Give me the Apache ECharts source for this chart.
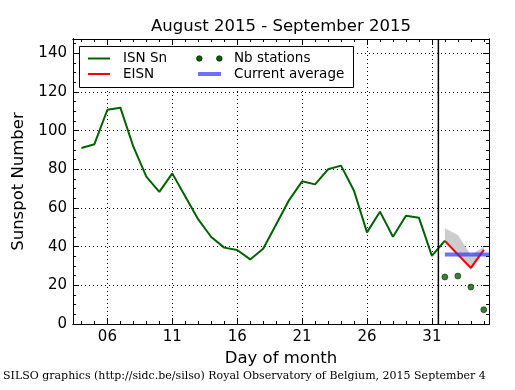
<!DOCTYPE html>
<html><head><meta charset="utf-8">
<script src="https://cdn.jsdelivr.net/npm/echarts@6/dist/echarts.min.js"></script>
<style>html,body{margin:0;padding:0;background:#fff}#c{width:515px;height:390px}</style>
</head><body><div id="c"></div>
<script>
// ---- data ----
const days = [4,5,6,7,8,9,10,11,12,13,14,15,16,17,18,19,20,21,22,23,24,25,26,27,28,29,30,31,32];
const isn  = [91,93,110.8,111.9,91.7,76.2,68.3,77.9,66,54.1,45,39.5,38.3,33.4,38.9,51.5,64.1,73.8,72.2,80,81.9,68.9,47.4,58.1,45.1,56,55,35.2,43.1];
const eisnDays = [32,33,34,35];
const eisn     = [43,36,29,38.3];
const bandUpper = [49.5,46,35.7,40];
const bandLower = [41.7,34.8,27.9,37.4];
const stations  = [24.3,24.8,19.1,7.4];
const avgDays  = [32,35.4];
const avgValue = 36;
const splitDay = 31.5;
const xMajorTicks = [6,11,16,21,26,31];
const xLabels = ['06','11','16','21','26','31'];
const xMinorTicks = [4,5,6,7,8,9,10,11,12,13,14,15,16,17,18,19,20,21,22,23,24,25,26,27,28,29,30,31,32,33,34,35];
const yMajorTicks = [0,20,40,60,80,100,120,140];
const yMinorTicks = [0,5,10,15,20,25,30,35,40,45,50,55,60,65,70,75,80,85,90,95,100,105,110,115,120,125,130,135,140,145];
const xMin = 3.35, xMax = 35.4, yMin = 0, yMax = 147.4;

const F = 'DejaVu Sans';
const green = '#006400', red = '#ff0000', blue = 'rgba(51,51,255,0.7)';

function xAx(pos, ticks, len, labels, split) {
  return {
    type: 'value', min: xMin, max: xMax, position: pos,
    axisLine: {show: true, onZero: false, lineStyle: {color: '#000', width: 1}},
    axisTick: {show: true, inside: true, length: len, customValues: ticks, lineStyle: {color: '#000'}},
    axisLabel: labels ? {show: true, customValues: ticks, margin: 6, color: '#000',
      fontFamily: F, fontSize: 15, formatter: v => xLabels[xMajorTicks.indexOf(Math.round(v))] || ''} : {show: false},
    splitLine: split ? {show: true, lineStyle: {color: '#000', type: [1, 3], width: 1}} : {show: false}
  };
}
function yAx(pos, ticks, len, labels, split) {
  return {
    type: 'value', min: yMin, max: yMax, position: pos,
    axisLine: {show: true, onZero: false, lineStyle: {color: '#000', width: 1}},
    axisTick: {show: true, inside: true, length: len, customValues: ticks, lineStyle: {color: '#000'}},
    axisLabel: labels ? {show: true, customValues: ticks, margin: 6, color: '#000', fontFamily: F, fontSize: 15} : {show: false},
    splitLine: split ? {show: true, lineStyle: {color: '#000', type: [1, 3], width: 1}} : {show: false}
  };
}

const xa0 = xAx('bottom', xMajorTicks, 6, true, true);
xa0.name = 'Day of month'; xa0.nameLocation = 'middle'; xa0.nameGap = 24;
xa0.nameTextStyle = {fontFamily: F, fontSize: 16.5, color: '#000'};
const ya0 = yAx('left', yMajorTicks, 6, true, true);
ya0.name = 'Sunspot Number'; ya0.nameLocation = 'middle'; ya0.nameGap = 39;
ya0.nameTextStyle = {fontFamily: F, fontSize: 16.5, color: '#000'};

const chart = echarts.init(document.getElementById('c'), null, {renderer: 'canvas'});
chart.setOption({
  animation: false,
  backgroundColor: '#fff',
  grid: {left: 73, right: 26, top: 39, bottom: 66, containLabel: false},
  xAxis: [xa0, xAx('bottom', xMinorTicks, 3, false, false), xAx('top', xMajorTicks, 6, false, false), xAx('top', xMinorTicks, 3, false, false)],
  yAxis: [ya0, yAx('left', yMinorTicks, 3, false, false), yAx('right', yMajorTicks, 6, false, false), yAx('right', yMinorTicks, 3, false, false)],
  series: [
    {
      type: 'custom', name: 'band', z: 1,
      data: eisnDays.map((d, i) => [d, bandLower[i], bandUpper[i]]),
      renderItem: function (params, api) {
        if (params.dataIndex !== 0) return null;
        const pts = [];
        for (let j = 0; j < eisnDays.length; j++) pts.push(api.coord([eisnDays[j], bandUpper[j]]));
        for (let j = eisnDays.length - 1; j >= 0; j--) pts.push(api.coord([eisnDays[j], bandLower[j]]));
        return {type: 'polygon', shape: {points: pts}, style: {fill: '#cccccc', stroke: null}};
      }
    },
    {type: 'line', name: 'ISN Sn', z: 3, data: days.map((d, i) => [d, isn[i]]), symbol: 'none',
     lineStyle: {color: green, width: 2}, itemStyle: {color: green}},
    {type: 'line', name: 'EISN', z: 4, data: eisnDays.map((d, i) => [d, eisn[i]]), symbol: 'none',
     lineStyle: {color: red, width: 2}, itemStyle: {color: red}},
    {type: 'line', name: 'Current average', z: 5, data: avgDays.map(d => [d, avgValue]), symbol: 'none',
     lineStyle: {color: blue, width: 4}, itemStyle: {color: blue}},
    {type: 'scatter', name: 'Nb stations', z: 6, data: eisnDays.map((d, i) => [d, stations[i]]), symbolSize: 6,
     itemStyle: {color: green, borderColor: '#000', borderWidth: 0.6}},
    {type: 'line', name: 'split', z: 7, data: [[splitDay, yMin], [splitDay, yMax]], symbol: 'none',
     lineStyle: {color: '#000', width: 1.5}}
  ],
  graphic: [
    {type: 'text', x: 281, y: 27, z: 100, style: {text: 'August 2015 - September 2015', fill: '#000',
      font: '16.5px "DejaVu Sans"', textAlign: 'center', textVerticalAlign: 'middle'}},
    {type: 'text', x: 3, y: 376, z: 100, style: {text: 'SILSO graphics (http://sidc.be/silso) Royal Observatory of Belgium, 2015 September 4',
      fill: '#000', font: '11px "DejaVu Serif"', textAlign: 'left', textVerticalAlign: 'middle'}},
    {type: 'group', z: 100, children: [
      {type: 'rect', shape: {x: 79.5, y: 46.5, width: 274, height: 41}, style: {fill: '#fff', stroke: '#000', lineWidth: 1}, z: 100},
      {type: 'line', shape: {x1: 88, y1: 58.5, x2: 110, y2: 58.5}, style: {stroke: green, lineWidth: 2}, z: 101},
      {type: 'text', x: 123, y: 58.5, z: 101, style: {text: 'ISN Sn', fill: '#000', font: '13.5px "DejaVu Sans"', textVerticalAlign: 'middle'}},
      {type: 'line', shape: {x1: 88, y1: 74, x2: 110, y2: 74}, style: {stroke: red, lineWidth: 2}, z: 101},
      {type: 'text', x: 123, y: 74, z: 101, style: {text: 'EISN', fill: '#000', font: '13.5px "DejaVu Sans"', textVerticalAlign: 'middle'}},
      {type: 'circle', shape: {cx: 199.3, cy: 58.5, r: 2.8}, style: {fill: green, stroke: '#000', lineWidth: 0.6}, z: 101},
      {type: 'circle', shape: {cx: 219.3, cy: 58.5, r: 2.8}, style: {fill: green, stroke: '#000', lineWidth: 0.6}, z: 101},
      {type: 'text', x: 234, y: 58.5, z: 101, style: {text: 'Nb stations', fill: '#000', font: '13.5px "DejaVu Sans"', textVerticalAlign: 'middle'}},
      {type: 'line', shape: {x1: 198, y1: 74, x2: 221, y2: 74}, style: {stroke: blue, lineWidth: 4}, z: 101},
      {type: 'text', x: 234, y: 74, z: 101, style: {text: 'Current average', fill: '#000', font: '13.5px "DejaVu Sans"', textVerticalAlign: 'middle'}}
    ]}
  ]
});
</script></body></html>
